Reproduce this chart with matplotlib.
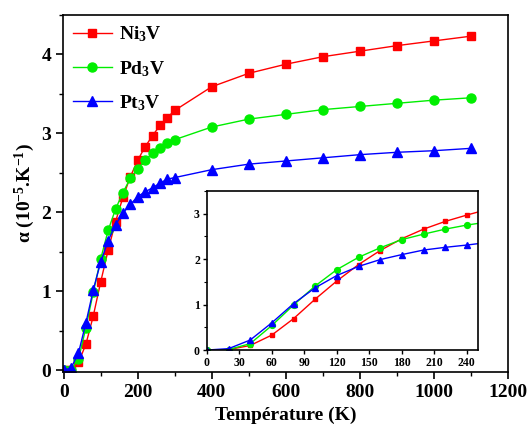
import matplotlib
matplotlib.use("Agg")
import matplotlib.pyplot as plt
from matplotlib.ticker import MultipleLocator

plt.rcParams['font.family'] = ['Liberation Serif', 'DejaVu Serif']
plt.rcParams['font.weight'] = 'bold'
plt.rcParams['mathtext.fontset'] = 'custom'
plt.rcParams['mathtext.rm'] = 'Liberation Serif:bold'
plt.rcParams['mathtext.it'] = 'Liberation Serif:bold'
plt.rcParams['mathtext.bf'] = 'Liberation Serif:bold'

T = [0, 20, 40, 60, 80, 100, 120, 140, 160, 180, 200, 220, 240, 260, 280, 300,
     400, 500, 600, 700, 800, 900, 1000, 1100]
ni3v = [0, 0.01, 0.10, 0.33, 0.69, 1.12, 1.52, 1.88, 2.19, 2.45, 2.66, 2.83, 2.97,
        3.10, 3.20, 3.29, 3.59, 3.76, 3.875, 3.97, 4.04, 4.11, 4.17, 4.23]
pd3v = [0, 0.01, 0.14, 0.54, 0.99, 1.41, 1.77, 2.04, 2.25, 2.43, 2.55, 2.66, 2.75,
        2.82, 2.88, 2.92, 3.08, 3.18, 3.24, 3.30, 3.34, 3.38, 3.42, 3.45]
pt3v = [0, 0.03, 0.22, 0.60, 1.02, 1.37, 1.64, 1.84, 1.99, 2.10, 2.20, 2.26, 2.31,
        2.37, 2.42, 2.44, 2.54, 2.61, 2.65, 2.69, 2.73, 2.76, 2.78, 2.81]
labels = ['Ni$_3$V', 'Pd$_3$V', 'Pt$_3$V']

series = [(ni3v, '#ff0000', 's', 5.5, 3.5), (pd3v, '#00ee00', 'o', 6.5, 4.2),
          (pt3v, '#0000ff', '^', 6.5, 4.2)]

fig = plt.figure(figsize=(5.29, 4.37), dpi=100)
ax = fig.add_axes([0.119, 0.149, 0.841, 0.817])
for (vals, c, m, ms, ms2), lab in zip(series, labels):
    ax.plot(T, vals, color=c, marker=m, markersize=ms, lw=1.0, label=lab)
ax.set_xlim(-2, 1200)
ax.set_ylim(-0.02, 4.5)
ax.xaxis.set_major_locator(MultipleLocator(200))
ax.xaxis.set_minor_locator(MultipleLocator(100))
ax.yaxis.set_major_locator(MultipleLocator(1))
ax.yaxis.set_minor_locator(MultipleLocator(0.5))
ax.tick_params(which='major', direction='out', length=5, width=1.2, labelsize=14)
ax.tick_params(which='minor', direction='out', length=3, width=1.0)
for s in ax.spines.values():
    s.set_linewidth(1.2)
ax.set_xlabel('Température (K)', fontsize=14, fontweight='bold')
ax.set_ylabel('α (10$^{-5}$.K$^{-1}$)', fontsize=14, fontweight='bold', labelpad=3)
leg = ax.legend(loc='upper left', frameon=False, fontsize=14, handlelength=2.0,
                borderaxespad=0.1, labelspacing=0.75, handletextpad=0.4)

ins = fig.add_axes([0.391, 0.199, 0.512, 0.364])
for (vals, c, m, ms, ms2), lab in zip(series, labels):
    ins.plot(T, vals, color=c, marker=m, markersize=ms2, lw=1.0)
ins.set_xlim(0, 250)
ins.set_ylim(0, 3.5)
ins.xaxis.set_major_locator(MultipleLocator(30))
ins.yaxis.set_major_locator(MultipleLocator(1))
ins.yaxis.set_minor_locator(MultipleLocator(0.5))
ins.tick_params(which='major', direction='out', length=3, width=1.0, labelsize=8.5, pad=2)
ins.tick_params(which='minor', direction='out', length=2, width=0.8)
for s in ins.spines.values():
    s.set_linewidth(1.2)

fig.savefig('out.png', dpi=100)
